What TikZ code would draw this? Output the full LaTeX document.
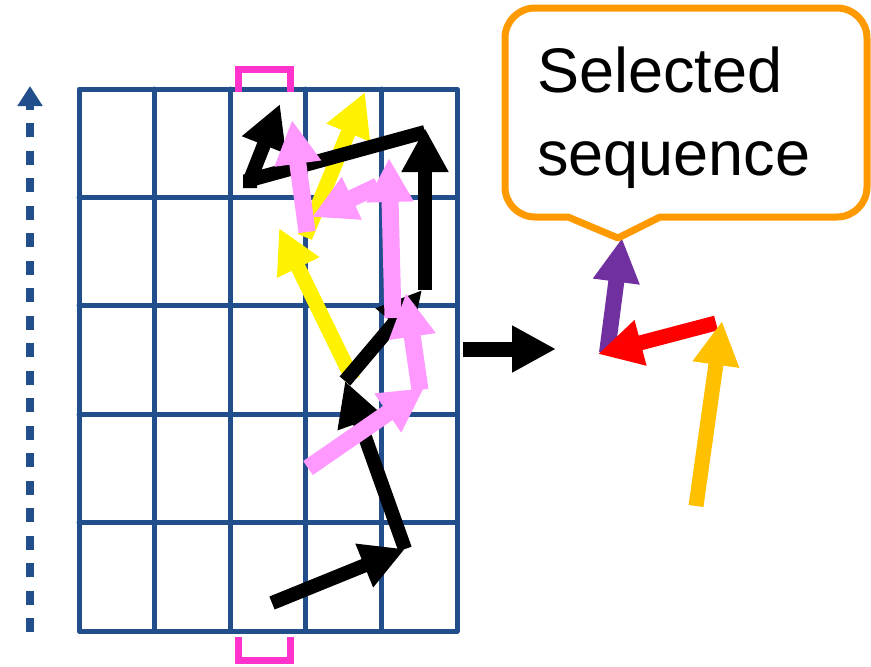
\documentclass[tikz,border=0pt]{standalone}
\usepackage{fontspec}
\setmainfont{Liberation Sans}
\usetikzlibrary{arrows.meta}

\definecolor{gridblue}{RGB}{35,78,140}
\definecolor{walkpink}{RGB}{255,153,255}
\definecolor{markpink}{RGB}{255,51,204}
\definecolor{boxorange}{RGB}{255,153,0}
\definecolor{seqgold}{RGB}{255,192,0}
\definecolor{seqpurple}{RGB}{112,48,160}

\begin{document}
\begin{tikzpicture}[
		x=1pt,y=-1pt,
		>={Triangle[length=44pt,width=44pt]},
		gridline/.style={gridblue, line width=5pt, line cap=round},
		move/.style={->, line width=14pt},
		colmark/.style={markpink, line width=7pt},
		every node/.style={inner sep=0pt, font=\fontsize{63}{80}\selectfont}
		]
		\useasboundingbox (0,0) rectangle (871,667);
		
		% =========================
		% Left: cell grid
		% =========================
		\draw[gridline, line join=round] (79,89) rectangle (457,631);
		\foreach \i in {1,...,4} {
			\draw[gridline] ({79+75.6*\i},89) -- ({79+75.6*\i},631);
			\draw[gridline] (79,{89+108.4*\i}) -- (457,{89+108.4*\i});
		}
		
		% column markers
		\draw[colmark] (238,92) -- (238,69.5) -- (290.5,69.5) -- (290.5,92);
		\draw[colmark] (238,637) -- (238,660) -- (290.5,660) -- (290.5,637);
		
		% time axis
		\coordinate (t0) at (30,632);
		\coordinate (t1) at (30,86);
		\draw[gridblue, line width=8pt, dash pattern=on 14pt off 13.5pt,
			-{Triangle[length=20pt,width=24pt]}] (t0) -- (t1);
		
		% waypoints of the three walks
		\coordinate (y0) at (353,380);
		\coordinate (y1) at (279,228);
		\coordinate (y2) at (305,237);
		\coordinate (y3) at (365,92);
		
		\coordinate (k0) at (272,603);
		\coordinate (k1) at (405,549);
		\coordinate (k2) at (345,381);
		\coordinate (k3) at (422,290);
		\coordinate (k4) at (425,290);
		\coordinate (k5) at (425,128);
		\coordinate (k6) at (425,132);
		\coordinate (k7) at (250,180);
		\coordinate (k8) at (280,104);
		
		\coordinate (p0) at (308,468);
		\coordinate (p1) at (424,388);
		\coordinate (p2) at (420,390);
		\coordinate (p3) at (406,293);
		\coordinate (p4) at (393,318);
		\coordinate (p5) at (389,158);
		\coordinate (p6) at (378,186);
		\coordinate (p7) at (312,217);
		\coordinate (p8) at (307,232);
		\coordinate (p9) at (292,120);
		
		% yellow walk
		\draw[move, yellow, line width=15pt] (y0) -- (y1);
		\draw[move, yellow, line width=15pt] (y2) -- (y3);
		
		% black walk
		\draw[move] (k0) -- (k1);
		\draw[move] (k1) -- (k2);
		\draw[move] (k2) -- (k3);
		\draw[move] (k4) -- (k5);
		\draw[line width=14pt, line join=miter] (k6) -- (k7) -- ([yshift=-8pt]k7);
		\draw[move] (k7) -- (k8);
		
		% pink walk
		\draw[move, walkpink, line width=17pt] (p0) -- (p1);
		\draw[move, walkpink, line width=17pt] (p2) -- (p3);
		\draw[move, walkpink, line width=17pt] (p4) -- (p5);
		\draw[move, walkpink, line width=17pt] (p6) -- (p7);
		\draw[move, walkpink, line width=17pt] (p8) -- (p9);
		
		% =========================
		% Right: selected sequence
		% =========================
		\coordinate (g0) at (463,349);
		\coordinate (g1) at (556,349);
		\draw[move, line width=15pt] (g0) -- (g1);
		
		\coordinate (s0) at (696,506);
		\coordinate (s1) at (722,321);
		\coordinate (s2) at (716,323);
		\coordinate (s3) at (598,354);
		\coordinate (s4) at (607,353);
		\coordinate (tip) at (618,238);
		
		\draw[move, seqpurple, line width=16pt] (s4) -- ([xshift=4pt]tip);
		\draw[move, red, line width=15pt] (s2) -- (s3);
		\draw[move, seqgold, line width=15pt] (s0) -- (s1);
		
		% callout box
		\draw[boxorange, line width=7pt, line join=round, fill=white]
		(tip) -- (660,217) -- (837,217) arc[start angle=90, end angle=0, radius=30]
		-- (867,38) arc[start angle=0, end angle=-90, radius=30]
		-- (535,8) arc[start angle=-90, end angle=-180, radius=30]
		-- (505,187) arc[start angle=180, end angle=90, radius=30]
		-- (568,217) -- cycle;
		
		\node[anchor=base west] (seltop) at (537,92) {Selected};
		\node[anchor=base west] (selbot) at (537,175) {sequence};
		
	\end{tikzpicture}
\end{document}
